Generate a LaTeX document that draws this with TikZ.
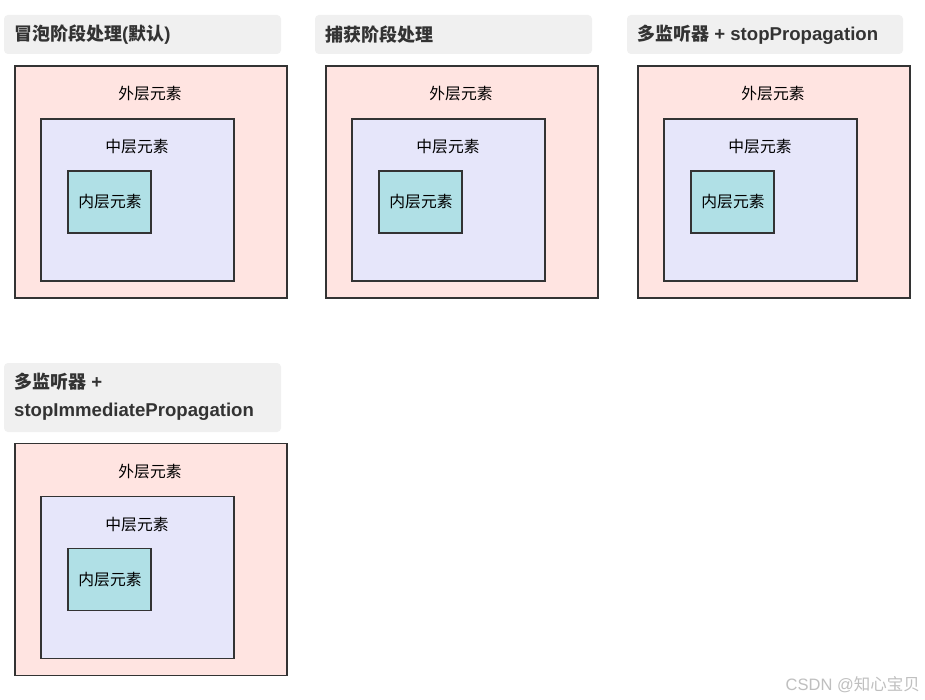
\documentclass[tikz,border=0pt]{standalone}
\usepackage{fontspec}
\setmainfont{Liberation Sans}
\newfontfamily\cjk{Noto Sans CJK SC}
\definecolor{titlebg}{HTML}{F0F0F0}
\definecolor{outerc}{HTML}{FFE4E1}
\definecolor{midc}{HTML}{E6E6FA}
\definecolor{innerc}{HTML}{B0E0E6}
\definecolor{edgec}{HTML}{333333}
\definecolor{titletxt}{HTML}{333333}
\tikzset{
  titlebox/.style={fill=titlebg, draw=none, rounded corners=4pt},
  titletext/.style={anchor=west, inner sep=0pt, text=titletxt, font=\fontsize{18.6}{30}\selectfont\bfseries},
  boxouter/.style={fill=outerc, draw=edgec, line width=1.6pt},
  boxmid/.style={fill=midc, draw=edgec, line width=1.6pt},
  boxinner/.style={fill=innerc, draw=edgec, line width=1.6pt},
  lbl/.style={inner sep=0pt, text=black, font=\cjk\fontsize{15.8}{18}\selectfont},
}
\newcommand{\nestpanel}[3]{%
  % #1 x offset, #2 y offset, #3 suffix
  \node[boxouter, minimum width=272pt, minimum height=232pt, inner sep=0pt] (outer#3) at (#1+151, #2+182) {};
  \node[boxmid, minimum width=193pt, minimum height=162pt, inner sep=0pt] (mid#3) at (#1+137.5, #2+200) {};
  \node[boxinner, minimum width=83pt, minimum height=62pt, inner sep=0pt] (inner#3) at (#1+109.5, #2+202) {};
  \node[lbl] (outerl#3) at (#1+150, #2+94) {外层元素};
  \node[lbl] (midl#3) at (#1+137, #2+147) {中层元素};
  \node[lbl] (innerl#3) at (#1+110, #2+202) {内层元素};
}
\begin{document}
\begin{tikzpicture}[x=1pt, y=-1pt]
\useasboundingbox (0,0) rectangle (925,700);
\fill[white] (0,0) rectangle (925,700);
% titles
\node[titlebox, minimum width=277pt, minimum height=39pt, inner sep=0pt] (t1box) at (142.5,34.5) {};
\node[titletext] (t1) at (14,35) {{\cjk\bfseries\fontsize{18}{30}\selectfont 冒泡阶段处理}({\cjk\bfseries\fontsize{18}{30}\selectfont 默认})};
\node[titlebox, minimum width=277pt, minimum height=39pt, inner sep=0pt] (t2box) at (453.5,34.5) {};
\node[titletext] (t2) at (325,35) {{\cjk\bfseries\fontsize{18}{30}\selectfont 捕获阶段处理}};
\node[titlebox, minimum width=276pt, minimum height=39pt, inner sep=0pt] (t3box) at (765,34.5) {};
\node[titletext] (t3) at (637,35) {{\cjk\bfseries\fontsize{18}{30}\selectfont 多监听器} + stopPropagation};
\node[titlebox, minimum width=277pt, minimum height=69pt, inner sep=0pt] (t4box) at (142.5,397.5) {};
\node[titletext] (t4a) at (14,382) {{\cjk\bfseries\fontsize{18}{30}\selectfont 多监听器} +};
\node[titletext] (t4b) at (14,412) {stopImmediatePropagation};
% panels
\nestpanel{0}{0}{1}
\nestpanel{311}{0}{2}
\nestpanel{623}{0}{3}
\nestpanel{0}{377.5}{4}
% watermark
\node[anchor=east, inner sep=0pt, text=black!25, font=\fontsize{16.5}{18}\selectfont] (wm) at (920,685) {CSDN @{\cjk 知心宝贝}};
\end{tikzpicture}
\end{document}
